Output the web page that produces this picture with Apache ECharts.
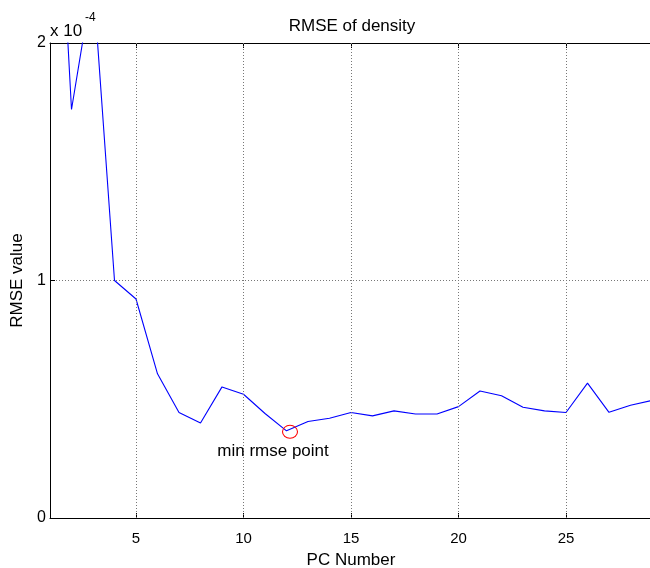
<!DOCTYPE html>
<html>
<head>
<meta charset="utf-8">
<script src="https://cdn.jsdelivr.net/npm/echarts@6/dist/echarts.min.js"></script>
<style>
  html, body { margin: 0; padding: 0; background: #fff; }
  #chart { width: 650px; height: 568px; }
</style>
</head>
<body>
<div id="chart"></div>
<script>
// PC number vs RMSE (values in units of 1e-4)
const pcNumbers = [1, 2, 3, 4, 5, 6, 7, 8, 9, 10, 11, 12, 13, 14, 15, 16, 17, 18, 19, 20, 21, 22, 23, 24, 25, 26, 27, 28, 29];
const rmseValues = [3.4, 1.72, 2.27, 1.0, 0.922, 0.607, 0.444, 0.40, 0.552, 0.521, 0.44, 0.367, 0.406, 0.42, 0.444, 0.43, 0.451, 0.438, 0.438, 0.469, 0.535, 0.515, 0.466, 0.451, 0.444, 0.568, 0.445, 0.475, 0.495];
const xTicks = [5, 10, 15, 20, 25];
const yTicks = [0, 1, 2];

const font = 'Liberation Sans';

// locate the minimum for the annotation
let minIdx = 0;
rmseValues.forEach((v, i) => { if (v < rmseValues[minIdx]) minIdx = i; });
const minPoint = [pcNumbers[minIdx], rmseValues[minIdx]];

const chart = echarts.init(document.getElementById('chart'));

chart.setOption({
  animation: false,
  title: {
    text: 'RMSE of density',
    left: 352, top: 18, padding: 0,
    textAlign: 'center',
    textStyle: { fontFamily: font, fontSize: 17, fontWeight: 'normal', color: '#000' }
  },
  graphic: [
    { type: 'text', left: 50, top: 23, style: { text: 'x 10', font: '17px "Liberation Sans"', fill: '#000' } },
    { type: 'text', left: 85, top: 12, style: { text: '-4', font: '12px "Liberation Sans"', fill: '#000' } }
  ],
  grid: { left: 50, right: -2, top: 43, bottom: 50, outerBoundsMode: 'none' },
  xAxis: [{
    type: 'value',
    min: 1, max: 29,
    name: 'PC Number',
    nameLocation: 'middle',
    nameGap: 34,
    nameTextStyle: { fontFamily: font, fontSize: 17, color: '#000' },
    axisLine: { onZero: false, lineStyle: { color: '#000', width: 1 } },
    axisTick: { inside: true, length: 5, customValues: xTicks, lineStyle: { color: '#000' } },
    axisLabel: { customValues: xTicks, margin: 13, fontFamily: font, fontSize: 15, color: '#000' },
    splitLine: { show: false }
  }, {
    type: 'value',
    position: 'top',
    min: 1, max: 29,
    axisLine: { onZero: false, lineStyle: { color: '#000', width: 1 } },
    axisTick: { inside: true, length: 5, customValues: xTicks, lineStyle: { color: '#000' } },
    axisLabel: { show: false },
    splitLine: { show: false }
  }],
  yAxis: {
    type: 'value',
    min: yTicks[0], max: yTicks[yTicks.length - 1], interval: 1,
    name: 'RMSE value',
    nameLocation: 'middle',
    nameGap: 23,
    nameTextStyle: { fontFamily: font, fontSize: 17, color: '#000' },
    axisLine: { show: true, onZero: false, lineStyle: { color: '#000', width: 1 } },
    axisTick: { show: true, inside: true, length: 5, lineStyle: { color: '#000' } },
    axisLabel: { margin: 4, fontFamily: font, fontSize: 16, color: '#000' },
    splitLine: { show: true, lineStyle: { color: '#777', type: [1, 2], width: 1 } }
  },
  series: [{
    type: 'line',
    data: pcNumbers.map((x, i) => [x, rmseValues[i]]),
    showSymbol: false,
    clip: true,
    lineStyle: { color: '#0000ff', width: 1.1 },
    markLine: {
      silent: true,
      symbol: 'none',
      label: { show: false },
      lineStyle: { color: '#777', type: [1, 2], width: 1 },
      data: xTicks.map(t => ({ xAxis: t }))
    },
    markPoint: {
      silent: true,
      data: [{
        coord: minPoint,
        symbol: 'circle',
        symbolSize: [15, 13],
        symbolOffset: [3.5, 1],
        itemStyle: { color: 'rgba(0,0,0,0)', borderColor: '#ff0000', borderWidth: 1 },
        label: { show: false }
      }, {
        coord: minPoint,
        symbol: 'rect',
        symbolSize: 0,
        label: {
          show: true,
          position: 'inside',
          offset: [-13.5, 20],
          formatter: 'min rmse point',
          fontFamily: font, fontSize: 17, color: '#000'
        }
      }]
    }
  }]
});
</script>
</body>
</html>
